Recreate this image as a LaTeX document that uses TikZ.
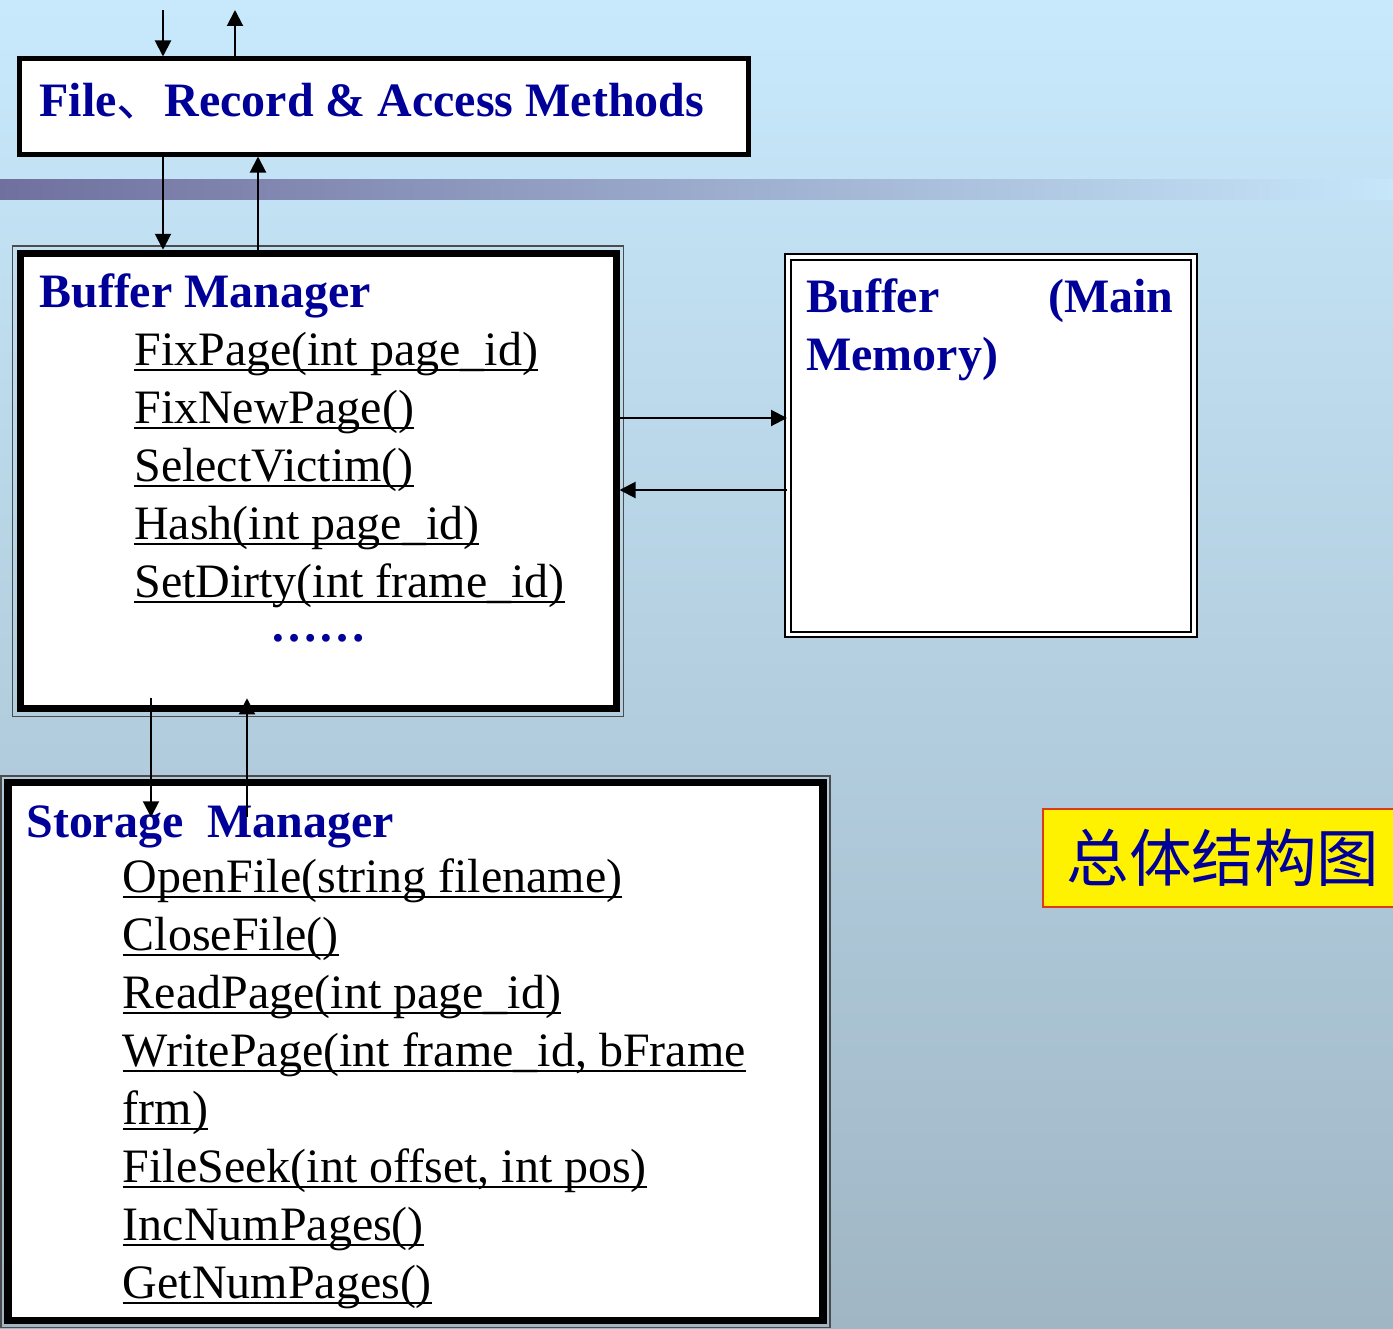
\documentclass[tikz,border=0pt]{standalone}
\usepackage{fontspec}
\setmainfont{Liberation Serif}
\newfontfamily\cjk{Noto Sans CJK SC}
\usetikzlibrary{arrows.meta,calc}
\definecolor{deepblue}{RGB}{0,0,153}
\definecolor{skytop}{RGB}{200,233,252}
\definecolor{skybottom}{RGB}{160,182,197}
\definecolor{barleft}{RGB}{112,112,158}
\definecolor{barright}{RGB}{198,230,250}
\definecolor{tagred}{RGB}{220,60,20}
\newcommand\uln[1]{\setbox0\hbox{#1}\rlap{\rule[-0.12cm]{\wd0}{0.04cm}}\box0}
\tikzset{
  flow/.style={-{Triangle[length=3.2mm,width=3.2mm]},line width=0.04cm,draw=black},
  frame/.style={draw=black,fill=white,line width=#1,inner sep=0pt},
  frame/.default=0.14cm,
  outline/.style={draw=black!70,line width=0.03cm},
  title/.style={anchor=base west,inner sep=0pt,text=deepblue,
    font=\fontsize{27.3}{33}\selectfont\bfseries},
  method/.style={anchor=base west,inner sep=0pt,font=\fontsize{27.3}{33}\selectfont},
}

\begin{document}
\begin{tikzpicture}
  \useasboundingbox (0,0) rectangle (27.86,-26.56);
  \clip (0,0) rectangle (27.86,-26.56);
  % background and bar
  \shade[top color=skytop,bottom color=skybottom] (0,0) rectangle (27.86,-26.56);
  \shade[left color=barleft,right color=barright] (0,-3.58) rectangle (27.86,-3.98);

  % boxes
  \node[frame=0.1cm,minimum width=14.59cm,minimum height=1.9cm] (fram) at (7.68,-2.13) {};
  \node[frame,minimum width=11.92cm,minimum height=9.11cm] (bm) at (6.36,-9.62) {};
  \draw[outline] ([shift={(-0.08,0.08)}]bm.north west) rectangle ([shift={(0.08,-0.08)}]bm.south east);
  \node[frame=0.04cm,double=white,double distance=0.07cm,minimum width=8.12cm,minimum height=7.55cm] (mem) at (19.82,-8.91) {};
  \node[frame=0.15cm,minimum width=16.3cm,minimum height=10.76cm] (sm) at (8.31,-21.03) {};
  \draw[outline] ([shift={(-0.06,0.06)}]sm.north west) rectangle ([shift={(0.06,-0.06)}]sm.south east);
  \node[fill=yellow,draw=tagred,line width=0.04cm,minimum width=7.2cm,minimum height=1.96cm,
    text=deepblue,font=\cjk\fontsize{35.6}{40}\selectfont] (tag) at (24.46,-17.16) {\raisebox{-0.06cm}{总体结构图}};

  % texts
  \node[title] (ftitle) at (0.78,-2.32) {File{\cjk\mdseries 、}Record \& Access Methods};
  \node[title] (btitle) at (0.78,-6.14) {Buffer Manager};
  \foreach \t [count=\i from 0] in {FixPage(int page\_id),FixNewPage(),SelectVictim(),
      Hash(int page\_id),SetDirty(int frame\_id)}
    \node[method] (bf\i) at (2.68,-7.30-\i*1.16) {\uln{\t}};
  \node[title,anchor=base] (dots) at (6.37,-12.82) {……};
  \node[title,text width=7.34cm,align=left] (mtitle) at (16.12,-6.24) {Buffer\hfill(Main};
  \node[title] (mtitle2) at (16.12,-7.40) {Memory)};
  \node[title] (stitle) at (0.52,-16.74) {Storage\ \ Manager};
  \foreach \t [count=\i from 0] in {OpenFile(string filename),CloseFile(),ReadPage(int page\_id),
      {WritePage(int frame\_id, bFrame},frm),{FileSeek(int offset, int pos)},IncNumPages(),GetNumPages()}
    \node[method] (sf\i) at (2.45,-17.84-\i*1.16) {\uln{\t}};

  % connectors
  \coordinate (in) at (3.26,-0.2);
  \coordinate (out) at (4.70,-0.2);
  \coordinate (up1) at (5.16,0);
  \coordinate (r1) at (0,-8.36);
  \coordinate (r2) at (0,-9.80);
  \coordinate (d2) at ([xshift=-3.34cm,yshift=0.28cm]bm.south);
  \coordinate (u2) at ([xshift=-3.37cm,yshift=-0.77cm]sm.north);
  \draw[flow] (in) -- (in |- fram.north);
  \draw[flow] (out |- fram.north) -- (out);
  \draw[flow] (in |- fram.south) -- (in |- bm.north);
  \draw[flow] (up1 |- bm.north) -- (up1 |- fram.south);
  \draw[flow] (r1 -| bm.east) -- (r1 -| mem.west);
  \draw[flow] (r2 -| mem.west) -- (r2 -| bm.east);
  \draw[flow] (d2) -- (d2 |- u2);
  \draw[flow] (u2) -- (u2 |- d2);
\end{tikzpicture}
\end{document}
